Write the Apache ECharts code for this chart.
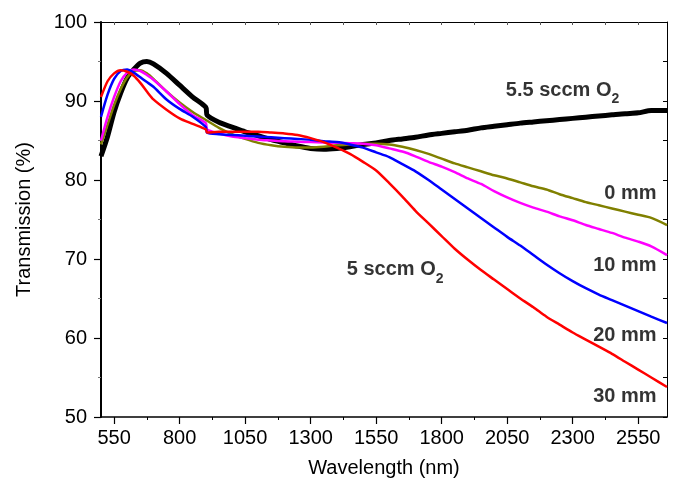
<!DOCTYPE html>
<html>
<head>
<meta charset="utf-8">
<title>Transmission vs wavelength</title>
<script src="https://cdn.jsdelivr.net/npm/echarts@6/dist/echarts.min.js"></script>
<style>
  html, body { margin: 0; padding: 0; background: #fff; }
  #main { width: 675px; height: 484px; }
</style>
</head>
<body>
<div id="main"></div>
<script>
// wavelength grid (nm), shared by all curves
const wavelength = [500, 525, 550, 575, 600, 625, 650, 675, 700, 750, 800, 850, 900, 905, 950, 1000, 1050, 1100, 1150, 1200, 1250, 1300, 1350, 1400, 1450, 1500, 1550, 1600, 1650, 1700, 1750, 1800, 1850, 1900, 1950, 2000, 2050, 2100, 2150, 2200, 2250, 2300, 2350, 2400, 2450, 2500, 2550, 2600, 2660];

// transmission (%)
const sccm55 = [83.0, 85.5, 88.6, 91.0, 92.9, 94.0, 94.8, 95.0, 94.7, 93.5, 92.0, 90.5, 89.2, 88.2, 87.3, 86.7, 86.1, 85.6, 85.1, 84.7, 84.3, 84.0, 83.9, 84.0, 84.2, 84.5, 84.7, 85.0, 85.2, 85.4, 85.7, 85.9, 86.1, 86.3, 86.6, 86.8, 87.0, 87.2, 87.35, 87.5, 87.65, 87.8, 87.95, 88.1, 88.25, 88.4, 88.5, 88.8, 88.8];
const mm0 = [84.5, 87.0, 89.5, 91.5, 93.0, 93.8, 93.9, 93.5, 92.8, 91.2, 89.8, 88.6, 87.6, 87.5, 86.6, 85.8, 85.2, 84.7, 84.4, 84.2, 84.1, 84.1, 84.2, 84.4, 84.5, 84.6, 84.6, 84.5, 84.2, 83.8, 83.3, 82.7, 82.1, 81.6, 81.1, 80.6, 80.2, 79.7, 79.2, 78.8, 78.2, 77.7, 77.2, 76.8, 76.4, 76.0, 75.6, 75.2, 74.3];
const mm10 = [85.0, 88.0, 90.5, 92.5, 93.6, 94.0, 93.8, 93.3, 92.7, 91.2, 89.6, 88.2, 87.2, 86.4, 85.9, 85.5, 85.3, 85.1, 85.0, 84.9, 84.85, 84.8, 84.75, 84.7, 84.65, 84.6, 84.4, 84.0, 83.6, 83.0, 82.3, 81.7, 81.0, 80.2, 79.5, 78.6, 77.8, 77.1, 76.5, 76.0, 75.4, 74.9, 74.3, 73.8, 73.3, 72.7, 72.2, 71.6, 70.5];
const mm20 = [88.0, 90.8, 92.8, 93.8, 94.0, 93.6, 93.0, 92.4, 91.8, 90.2, 89.0, 88.0, 86.7, 86.0, 85.8, 85.7, 85.6, 85.5, 85.4, 85.3, 85.2, 85.1, 84.9, 84.8, 84.5, 84.1, 83.5, 82.9, 82.0, 81.1, 80.0, 78.8, 77.6, 76.4, 75.2, 74.0, 72.8, 71.7, 70.5, 69.3, 68.2, 67.2, 66.3, 65.5, 64.8, 64.1, 63.4, 62.7, 61.9];
const mm30 = [90.5, 92.5, 93.5, 93.9, 93.7, 93.2, 92.3, 91.2, 90.2, 88.9, 87.8, 87.1, 86.4, 86.0, 86.1, 86.1, 86.1, 86.1, 86.0, 85.9, 85.7, 85.3, 84.8, 84.1, 83.3, 82.3, 81.2, 79.6, 77.9, 76.1, 74.5, 72.9, 71.3, 69.9, 68.6, 67.4, 66.2, 65.0, 63.9, 62.7, 61.7, 60.7, 59.8, 58.9, 58.0, 57.0, 56.0, 55.0, 53.8];

// tick labels
const xTicks = [550, 800, 1050, 1300, 1550, 1800, 2050, 2300, 2550];
const xMinorTicks = [675, 925, 1175, 1425, 1675, 1925, 2175, 2425];
const xTopTicks = [550, 675, 800, 925, 1050, 1175, 1300, 1425, 1550, 1675, 1800, 1925, 2050, 2175, 2300, 2425, 2550];

// text labels on the plot
const noteText = ["{m|5.5 sccm O}{sub|2}", "0 mm", "10 mm", "20 mm", "30 mm", "{m|5 sccm O}{sub|2}"];
const noteX = [2045, 2620, 2620, 2620, 2620, 1438];
const noteY = [92.6, 79.6, 70.5, 61.6, 53.8, 69.9];
const noteAlign = ["left", "right", "right", "right", "right", "left"];

const FONT = "'Liberation Sans', Arial, sans-serif";

function pairs(ys) {
  return wavelength.map((x, i) => [x, ys[i]]);
}

function line(name, ys, color, width) {
  return {
    name: name,
    type: "line",
    data: pairs(ys),
    showSymbol: false,
    smooth: 0.25,
    lineStyle: { color: color, width: width },
    itemStyle: { color: color },
    z: 3
  };
}

function option() {
  return {
    animation: false,
    backgroundColor: "#fff",
    textStyle: { fontFamily: FONT },
    grid: { left: 101, right: 8, top: 22, bottom: 67 },
    xAxis: [
      {
        type: "value",
        position: "bottom",
        min: 500,
        max: 2660,
        name: "Wavelength (nm)",
        nameLocation: "middle",
        nameGap: 41,
        nameTextStyle: { fontSize: 20, color: "#000", fontFamily: FONT },
        axisLine: { lineStyle: { color: "#000", width: 1.5 } },
        axisTick: { customValues: xTicks, length: 7, lineStyle: { color: "#000", width: 1.2 } },
        axisLabel: { customValues: xTicks, formatter: v => String(v), fontSize: 20, color: "#000", margin: 11, fontFamily: FONT },
        splitLine: { show: false }
      },
      {
        // minor ticks on bottom
        type: "value",
        position: "bottom",
        min: 500,
        max: 2660,
        axisLine: { show: false },
        axisTick: { customValues: xMinorTicks, length: 3, lineStyle: { color: "#000", width: 1 } },
        axisLabel: { show: false },
        splitLine: { show: false }
      },
      {
        type: "value",
        position: "top",
        min: 500,
        max: 2660,
        axisLine: { lineStyle: { color: "#000", width: 1 } },
        axisTick: { customValues: xTopTicks, inside: true, length: 3, lineStyle: { color: "#555", width: 1 } },
        axisLabel: { show: false },
        splitLine: { show: false }
      }
    ],
    yAxis: [
      {
        type: "value",
        position: "left",
        min: 50,
        max: 100,
        interval: 10,
        name: "Transmission (%)",
        nameLocation: "middle",
        nameGap: 67,
        nameTextStyle: { fontSize: 20, color: "#000", fontFamily: FONT },
        axisLine: { show: true, lineStyle: { color: "#000", width: 2 } },
        axisTick: { length: 7, lineStyle: { color: "#000", width: 1.2 } },
        minorTick: { show: true, splitNumber: 2, length: 3, lineStyle: { color: "#777" } },
        axisLabel: { fontSize: 20, color: "#000", margin: 14, fontFamily: FONT },
        splitLine: { show: false }
      },
      {
        type: "value",
        position: "right",
        min: 50,
        max: 100,
        interval: 10,
        axisLine: { show: true, lineStyle: { color: "#000", width: 1 } },
        axisTick: { inside: true, length: 4, lineStyle: { color: "#000" } },
        minorTick: { show: true, splitNumber: 2, length: 4, lineStyle: { color: "#000" } },
        axisLabel: { show: false },
        splitLine: { show: false }
      }
    ],
    series: [
      line("5.5 sccm O2", sccm55, "#000000", 5),
      line("0 mm", mm0, "#808000", 2.5),
      line("10 mm", mm10, "#ff00ff", 2.5),
      line("20 mm", mm20, "#0000ff", 2.5),
      line("30 mm", mm30, "#ff0000", 2.5),
      {
        name: "notes",
        type: "scatter",
        symbolSize: 0,
        silent: true,
        z: 5,
        data: noteText.map((t, i) => ({
          value: [noteX[i], noteY[i]],
          label: { formatter: t, align: noteAlign[i] }
        })),
        label: {
          show: true,
          position: "inside",
          verticalAlign: "top",
          rich: {
            m: { fontSize: 20, fontWeight: "bold", color: "#000", lineHeight: 20, verticalAlign: "top", fontFamily: FONT },
            sub: { fontSize: 14, fontWeight: "bold", color: "#000", lineHeight: 26, verticalAlign: "bottom", fontFamily: FONT }
          },
          fontSize: 20,
          lineHeight: 20,
          fontWeight: "bold",
          color: "#000",
          fontFamily: FONT
        }
      }
    ]
  };
}

const myChart = echarts.init(document.getElementById("main"));
myChart.setOption(option());
</script>
</body>
</html>
